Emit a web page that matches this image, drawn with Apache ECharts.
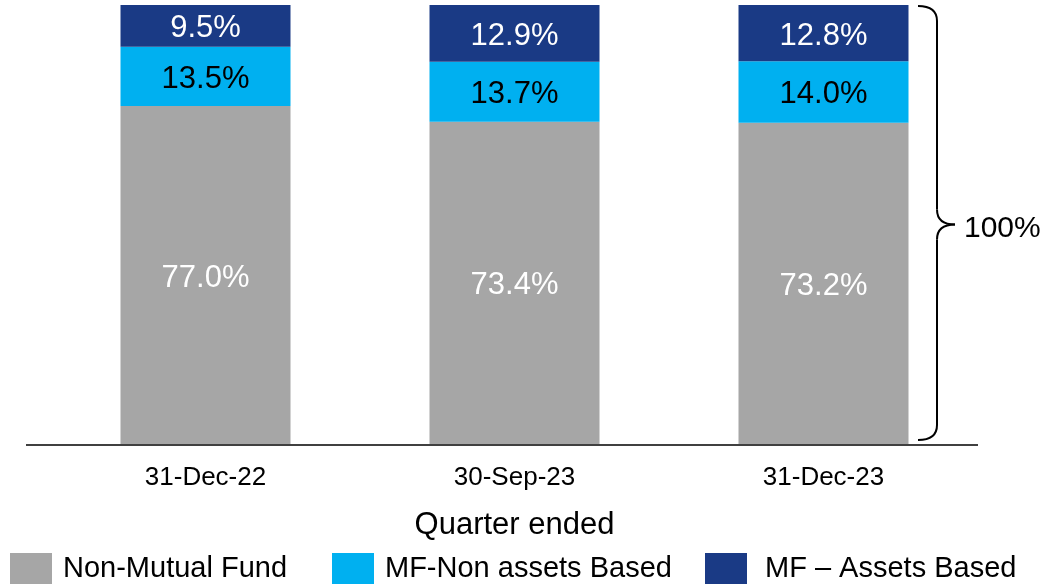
<!DOCTYPE html>
<html>
<head>
<meta charset="utf-8">
<script src="https://cdn.jsdelivr.net/npm/echarts@6/dist/echarts.min.js"></script>
<style>
  html, body { margin: 0; padding: 0; background: #fff; }
  #chart { width: 1043px; height: 588px; }
</style>
</head>
<body>
<div id="chart"></div>
<script>
// 数据
const categories = ['31-Dec-22', '30-Sep-23', '31-Dec-23'];
const nonMutualFund = [77.0, 73.4, 73.2];
const mfNonAssets = [13.5, 13.7, 14.0];
const mfAssets = [9.5, 12.9, 12.8];
const seriesNames = ['Non-Mutual Fund', 'MF-Non assets Based', 'MF \u2013 Assets Based'];
const totalLabel = '100%';

const FONT = '"Liberation Sans", Arial, sans-serif';

const chart = echarts.init(document.getElementById('chart'));

function seg(name, data, color, labelColor) {
    return {
        name: name,
        type: 'bar',
        stack: 'total',
        data: data,
        barWidth: 170,
        itemStyle: { color: color },
        label: {
            show: true,
            position: 'inside',
            offset: [0, 3],
            color: labelColor,
            fontSize: 31,
            fontFamily: FONT,
            formatter: p => p.value.toFixed(1) + '%'
        }
    };
}

// 图例：每项单独放置
const legendLefts = [10, 332, 705];
const legendTextPad = [6, 6, 13];
const legends = seriesNames.map((name, i) => ({
    data: [name],
    left: legendLefts[i],
    top: 553,
    itemWidth: 42,
    itemHeight: 31,
    icon: 'rect',
    padding: 0,
    textStyle: { fontSize: 29, color: '#000', fontFamily: FONT, padding: [5, 0, 0, legendTextPad[i]] }
}));

chart.setOption({
    animation: false,
    textStyle: { fontFamily: FONT },
    grid: { left: 51, right: 65, top: 5, bottom: 144 },
    legend: legends,
    xAxis: {
        type: 'category',
        data: categories,
        axisLine: { show: false },
        axisTick: { show: false },
        axisLabel: { fontSize: 26, color: '#000', margin: 21, fontFamily: FONT },
        name: 'Quarter ended',
        nameLocation: 'middle',
        nameGap: 66,
        nameTextStyle: { fontSize: 31, color: '#000', fontFamily: FONT }
    },
    yAxis: {
        type: 'value',
        min: 0,
        max: 100,
        show: false
    },
    series: [
        seg(seriesNames[0], nonMutualFund, '#A6A6A6', '#fff'),
        seg(seriesNames[1], mfNonAssets, '#00B0F0', '#000'),
        seg(seriesNames[2], mfAssets, '#1A3A85', '#fff')
    ]
});

// 括号和基线（根据坐标轴换算位置）
const y0 = chart.convertToPixel({ yAxisIndex: 0 }, 0);
const y100 = chart.convertToPixel({ yAxisIndex: 0 }, 100);
const ym = (y0 + y100) / 2;
const bx = 918, vx = 937, tx = 955;
const r = 15;
const yt = y100 + 1, yb = y0 - 4;
const braceStyle = { stroke: '#000', lineWidth: 2, fill: null };

function curve(x1, y1, cx, cy, x2, y2) {
    return {
        type: 'bezierCurve',
        shape: { x1: x1, y1: y1, cpx1: cx, cpy1: cy, x2: x2, y2: y2 },
        style: braceStyle
    };
}
function seg2(x1, y1, x2, y2, w) {
    return {
        type: 'line',
        shape: { x1: x1, y1: y1, x2: x2, y2: y2 },
        style: { stroke: '#000', lineWidth: w }
    };
}

chart.setOption({
    graphic: [
        seg2(26, y0 + 1, 978, y0 + 1, 1.5),
        curve(bx, yt, vx, yt, vx, yt + r),
        seg2(vx, yt + r, vx, ym - r, 2),
        curve(vx, ym - r, vx, ym, tx, ym),
        curve(tx, ym, vx, ym, vx, ym + r),
        seg2(vx, ym + r, vx, yb - r, 2),
        curve(vx, yb - r, vx, yb, bx, yb),
        {
            type: 'text',
            left: 964,
            top: ym - 11,
            style: { text: totalLabel, fill: '#000', font: '30px ' + FONT }
        }
    ]
});

window.addEventListener('resize', function() {
    chart.resize();
});
</script>
</body>
</html>
